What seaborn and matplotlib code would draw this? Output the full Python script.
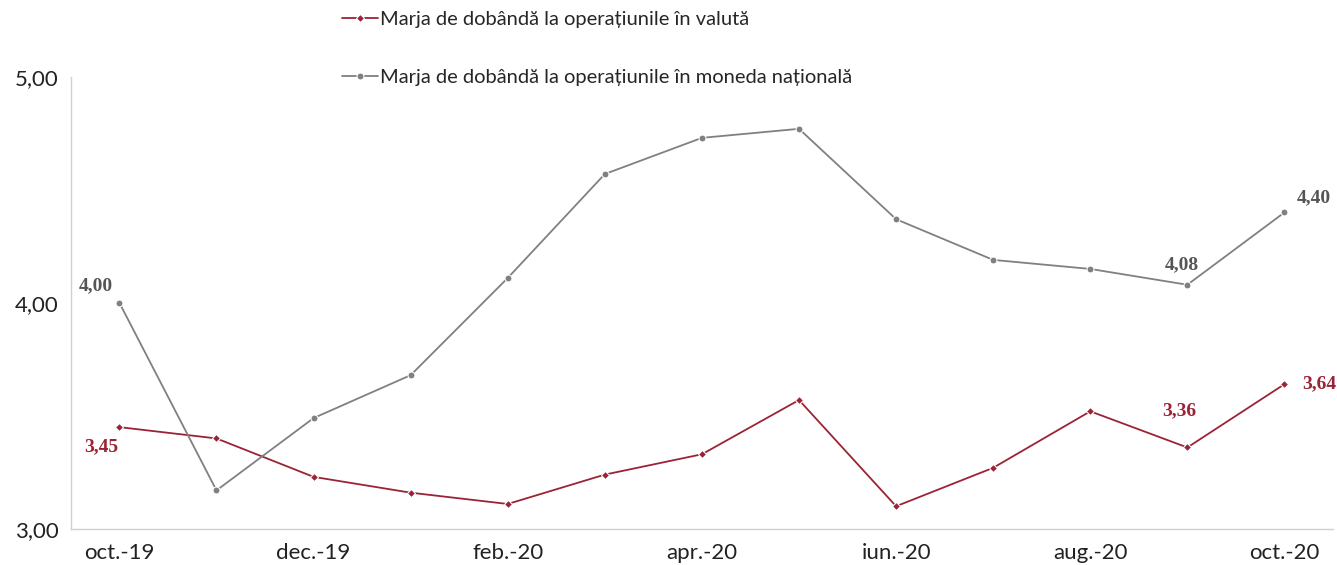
import matplotlib
matplotlib.use("Agg")
from matplotlib import pyplot as plt
from matplotlib.ticker import FixedLocator, FuncFormatter
import numpy as np
import pandas as pd
import seaborn as sns

months = ["oct.-19", "nov.-19", "dec.-19", "ian.-20", "feb.-20", "mar.-20", "apr.-20",
          "mai.-20", "iun.-20", "iul.-20", "aug.-20", "sep.-20", "oct.-20"]
valuta = [3.45, 3.40, 3.23, 3.16, 3.11, 3.24, 3.33, 3.57, 3.10, 3.27, 3.52, 3.36, 3.64]
nationala = [4.00, 3.17, 3.49, 3.68, 4.11, 4.57, 4.73, 4.77, 4.37, 4.19, 4.15, 4.08, 4.40]

lbl_val = "Marja de dobândă la operațiunile în valută"
lbl_nat = "Marja de dobândă la operațiunile în moneda națională"

red = "#9b2335"
grey = "#808080"

df = pd.DataFrame({
    "idx": list(range(len(months))) * 2,
    "value": valuta + nationala,
    "series": [lbl_val] * len(months) + [lbl_nat] * len(months),
})

sns.set_style("white")
plt.rcParams["font.family"] = ["Lato", "DejaVu Sans"]

fig = plt.figure(figsize=(13.37, 5.65), dpi=100)
ax = fig.add_axes([0.053, 0.064, 0.944, 0.800])

sns.lineplot(data=df, x="idx", y="value", hue="series", style="series",
             palette={lbl_val: red, lbl_nat: grey},
             markers={lbl_val: "D", lbl_nat: "o"}, dashes=False,
             markersize=5, linewidth=1.3, sort=False, ax=ax)

ax.set_xlim(-0.5, len(months) - 0.5)
ax.set_ylim(3, 5)
ax.set_yticks([3, 4, 5])
ax.yaxis.set_major_formatter(FuncFormatter(lambda v, p: f"{v:.2f}".replace(".", ",")))
ax.set_xticks(range(0, len(months), 2))
ax.set_xticklabels(months[0::2])
ax.xaxis.set_minor_locator(FixedLocator(np.arange(-0.5, len(months) - 1, 2)))
ax.tick_params(axis="x", which="major", length=0, pad=10, labelsize=16, labelcolor="#222222")
ax.tick_params(axis="x", which="minor", length=7, width=0.8, color="#cccccc", direction="out")
ax.tick_params(axis="y", length=5, width=0.8, color="#cccccc", direction="out",
               labelsize=16, labelcolor="#222222", pad=4)
ax.set_xlabel("")
ax.set_ylabel("")
for s in ["top", "right"]:
    ax.spines[s].set_visible(False)
for s in ["left", "bottom"]:
    ax.spines[s].set_color("#d0d0d0")
    ax.spines[s].set_linewidth(1.0)

# data labels
lab_font = dict(family=["Liberation Serif", "DejaVu Serif"], weight="bold", fontsize=14)
ax.annotate("4,00", (0, nationala[0]), xytext=(-17, 9), textcoords="offset points",
            ha="center", color="#555555", **lab_font)
ax.annotate("3,45", (0, valuta[0]), xytext=(-13, -17), textcoords="offset points",
            ha="center", color=red, **lab_font)
ax.annotate("4,08", (11, nationala[11]), xytext=(-4, 11), textcoords="offset points",
            ha="center", color="#555555", **lab_font)
ax.annotate("3,36", (11, valuta[11]), xytext=(-6, 23), textcoords="offset points",
            ha="center", color=red, **lab_font)
ax.annotate("4,40", (12, nationala[12]), xytext=(21, 7), textcoords="offset points",
            ha="center", color="#555555", **lab_font)
ax.annotate("3,64", (12, valuta[12]), xytext=(25, -3), textcoords="offset points",
            ha="center", color=red, **lab_font)

handles, labels = ax.get_legend_handles_labels()
ax.get_legend().remove()
# red markers are smaller in the original
for ln in list(ax.lines) + list(handles):
    if ln.get_label() == lbl_val or ln.get_color() == red:
        ln.set_markersize(3.8)
fig.legend(handles, labels, loc="upper left", bbox_to_anchor=(0.242, 1.012),
           frameon=False, fontsize=14.5, labelspacing=2.0, handlelength=1.8,
           handletextpad=0.1)

fig.savefig("out.png", dpi=100)
